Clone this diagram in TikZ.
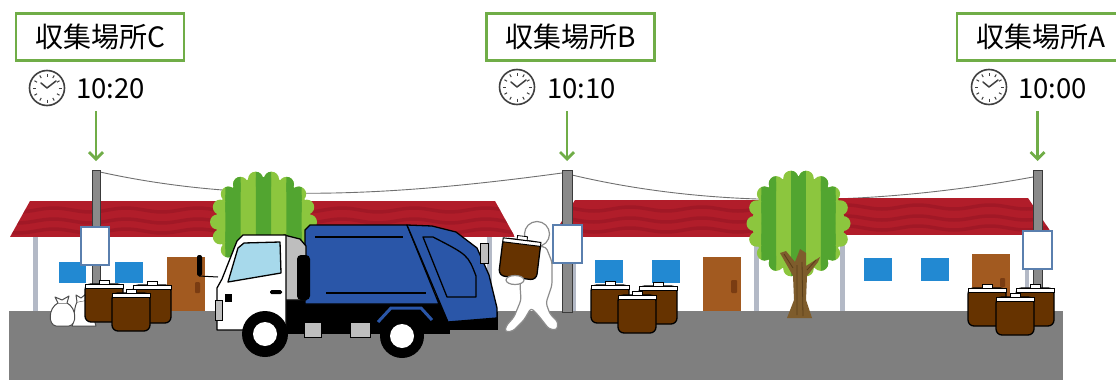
\documentclass[tikz,border=0pt]{standalone}
\usepackage{fontspec}
\newfontfamily\jpfont{Noto Sans CJK JP}
\usetikzlibrary{arrows.meta}

\definecolor{lgreen}{HTML}{70AD47}
\definecolor{roadgray}{HTML}{7F7F7F}
\definecolor{roofred}{HTML}{B11D2A}
\definecolor{roofdark}{HTML}{8A1220}
\definecolor{edgegray}{HTML}{B3B9C6}
\definecolor{winblue}{HTML}{2289D2}
\definecolor{doorbrown}{HTML}{A25A20}
\definecolor{doordark}{HTML}{7A3C12}
\definecolor{treelight}{HTML}{8CC63E}
\definecolor{treedark}{HTML}{52A530}
\definecolor{trunk}{HTML}{7E5C2C}
\definecolor{trunkline}{HTML}{5A3E1A}
\definecolor{binbrown}{HTML}{663300}
\definecolor{truckblue}{HTML}{2A56A8}
\definecolor{glass}{HTML}{A7D9EB}
\definecolor{panelgray}{HTML}{BEBEBE}
\definecolor{polegray}{HTML}{8A8A8A}
\definecolor{poleedge}{HTML}{3A3A3A}
\definecolor{signblue}{HTML}{5A7FAE}
\definecolor{wiregray}{HTML}{707070}
\definecolor{clockgray}{HTML}{404040}
\definecolor{persongray}{HTML}{8C8C8C}

% a garbage bin: #1 = left x, #2 = top y (lid)
\newcommand{\gbin}[2]{%
  \draw[fill=binbrown, line width=1.3pt, rounded corners=6pt] (#1,#2) rectangle ++(38,38);
  \draw[fill=white, line width=0.8pt] (#1+14,#2-4) rectangle ++(10,4);
  \draw[fill=white, line width=1pt] (#1,#2) rectangle ++(38,4);
}
% a wall clock: centre #1,#2
\newcommand{\gclock}[2]{%
  \draw[clockgray, line width=1.6pt, fill=white] (#1,#2) circle[radius=17.5pt];
  \foreach \a in {0,30,...,330}
    \draw[clockgray, line width=1pt] ({#1+11.5*cos(\a)},{#2+11.5*sin(\a)}) -- ({#1+14.5*cos(\a)},{#2+14.5*sin(\a)});
  \draw[clockgray, line width=1.5pt, line cap=round, line join=round] (#1-6,#2-5) -- (#1,#2) -- (#1+9,#2-7);
}
% the scalloped outline of a tree crown, painted piece by piece
\newcommand{\gcrownshape}[5]{%
  \fill[#5] (#1,#2) ellipse[x radius=#3-6, y radius=#4-6];
  \foreach \a in {0,20,...,340}
    \fill[#5] ({#1+(#3-7.5)*cos(\a)},{#2+(#4-7.5)*sin(\a)}) circle[radius=7.5];
}
% a striped tree crown: centre #1,#2, radii #3,#4
\newcommand{\gcrown}[4]{%
  \gcrownshape{#1}{#2}{#3}{#4}{treelight}
  \foreach \k in {1,3,5} {
    \begin{scope}
      \clip ({#1-#3+\k*2*#3/7},#2-#4) rectangle ++({2*#3/7},{2*#4});
      \gcrownshape{#1}{#2}{#3}{#4}{treedark}
    \end{scope}
  }
}
% a tiled roof: top-left x, top-right x, bottom-right x, bottom-left x, top y, bottom y
\newcommand{\groof}[6]{%
  \begin{scope}
    \clip (#1,#5) -- (#2,#5) -- (#3,#6) -- (#4,#6) -- cycle;
    \fill[roofred] (#4,#5) rectangle (#3,#6);
    \foreach \yy in {9,20,30}
      \draw[roofdark, line width=3.5pt, opacity=0.4] plot[domain=#4:#3, samples=90] (\x, {#5+\yy+2*sin(\x*5)});
  \end{scope}
}

\begin{document}
\begin{tikzpicture}[x=1pt, y=-1pt,
  labelbox/.style={draw=lgreen, line width=2.5pt, fill=white, minimum width=168pt,
    minimum height=47pt, inner sep=0pt, font=\jpfont\fontsize{28}{30}\selectfont},
  timetext/.style={anchor=west, inner sep=0pt, font=\jpfont\fontsize{27.5}{29}\selectfont},
  arr/.style={draw=lgreen, line width=2.8pt, -{Straight Barb[length=7pt,width=14pt]}},
  polebar/.style={fill=polegray, draw=poleedge, line width=1pt},
  signboard/.style={fill=white, draw=signblue, line width=1.2pt},
  wire/.style={draw=wiregray, line width=0.9pt},
  ink/.style={draw=black, line width=1.3pt, line join=round},
  personline/.style={fill=white, draw=persongray, line width=1.2pt, line join=round},
  bagline/.style={fill=white, draw=black!70, line width=1pt, line join=round}]

\useasboundingbox (0,0) rectangle (1116,380);

% road
\fill[roadgray] (9,311) rectangle (1063,380);

% overhead wires between the poles
\draw[wire] (100,172) .. controls (250,205) and (400,195) .. (562,173);
\draw[wire] (572,175) .. controls (720,210) and (880,205) .. (1033,177);

% house on the left
\groof{30}{495}{515}{10}{201}{237}
\fill[white] (35,237) rectangle (490,311);
\fill[edgegray] (33,237) rectangle (38,311);
\fill[edgegray] (487,237) rectangle (492,311);
\fill[winblue] (59,262) rectangle (86,283);
\fill[winblue] (115,262) rectangle (143,283);
\fill[doorbrown] (167,257) rectangle (205,311);
\fill[doordark, rounded corners=1pt] (195,282) rectangle (200,293);

% house in the middle
\groof{575}{770}{785}{552}{200}{237}
\fill[white] (572,237) rectangle (757,311);
\fill[edgegray] (572,237) rectangle (576,311);
\fill[edgegray] (754,237) rectangle (759,311);
\fill[winblue] (595,260) rectangle (623,283);
\fill[winblue] (652,260) rectangle (680,283);
\fill[doorbrown] (703,257) rectangle (741,311);
\fill[doordark, rounded corners=1pt] (731,280) rectangle (737,293);

% house on the right
\groof{830}{1028}{1053}{815}{198}{235}
\fill[white] (842,235) rectangle (1029,311);
\fill[edgegray] (840,235) rectangle (845,311);
\fill[edgegray] (1025,235) rectangle (1029,311);
\fill[winblue] (864,258) rectangle (892,281);
\fill[winblue] (921,258) rectangle (949,281);
\fill[doorbrown] (972,254) rectangle (1010,311);
\fill[doordark, rounded corners=1pt] (1000,278) rectangle (1005,287);

% trees
\gcrown{263.5}{222}{53.5}{51}
\gcrown{798.5}{223.5}{52}{53.5}
\fill[trunk] (780,253) -- (786,251) -- (795,262) -- (800,249) -- (806,253) -- (806,266)
  -- (820,257) -- (818,262) -- (807,276) -- (806,300) -- (812,318) -- (787,318)
  -- (794,300) -- (793,276) -- cycle;
\draw[trunkline, line width=0.8pt] (797,265) -- (797,315) (802,262) -- (803,316) (784,254) -- (793,268) (816,260) -- (807,270);

% poles and signs
\draw[polebar] (92,170) rectangle (100,290);
\draw[polebar] (562,170) rectangle (572,312);
\draw[polebar] (1033,170) rectangle (1042,300);
\draw[signboard] (81,227) rectangle (109,265);
\draw[signboard] (553,225) rectangle (582,263);
\draw[signboard] (1023,231) rectangle (1052,269);

% garbage bags at the left point
\draw[bagline] (77,302) .. controls (73,310) and (75,320) .. (72,326) -- (96,326)
  .. controls (96,320) and (89,318) .. (87,300) -- cycle;
\draw[bagline] (77,302) -- (76,295) -- (81,298) -- (86,294) -- (87,300);
\draw[bagline] (58,303) .. controls (48,308) and (48,325) .. (56,326) -- (69,326)
  .. controls (77,325) and (77,308) .. (67,303) -- cycle;
\draw[bagline] (58,303) -- (55,297) -- (62,300) -- (69,296) -- (67,303);

% bins at the three points
\gbin{85}{284}\gbin{133}{285}\gbin{112}{293}
\gbin{591}{285}\gbin{639}{286}\gbin{618}{295}
\gbin{968}{288}\gbin{1016}{288}\gbin{996}{297}

% ---- garbage truck ----
% chassis
\fill[black] (286,298) rectangle (450,334);
\fill[black] (440,312) rectangle (498,330);
% compactor body
\draw[ink, fill=truckblue] (305,304) -- (305,230) -- (310,225) -- (407,225) -- (439,304) -- cycle;
\draw[ink, fill=truckblue] (407,225) -- (432,226) -- (456,232) -- (477,248) -- (489,275)
  -- (497,308) -- (497,318) -- (448,322) -- cycle;
\draw[ink, fill=truckblue] (423,237) -- (447,297) -- (476,297) -- (476,276) .. controls (468,255) .. (433,237) -- cycle;
\draw[ink] (315,237) -- (403,237);
\draw[ink] (326,293) -- (426,293);
\draw[draw=black, line width=1pt, fill=panelgray] (480,243) rectangle (488,263);
\draw[truckblue, line width=3pt] (378,322) -- (391,308) -- (421,308) -- (432,320);
% cab
\draw[ink, fill=panelgray] (284,235) -- (300,239) -- (306,246) -- (306,300) -- (284,300) -- cycle;
\fill[black, rounded corners=4pt] (297,255) rectangle (310,300);
\draw[ink, fill=white] (217,330) -- (217,288) -- (222,279) -- (237,241) -- (243,235) -- (286,235)
  -- (286,330) -- cycle;
\draw[ink, fill=glass] (228,282) -- (238,248) -- (244,243) -- (280,242) -- (281,273) -- cycle;
\fill[black] (225,294) rectangle (232,302);
\fill[black, rounded corners=1.5pt] (270,290) rectangle (282,294);
\draw[draw=black, line width=1pt, fill=panelgray] (215,300) rectangle (222,320);
\fill[black, rounded corners=2pt] (197,255) rectangle (202,276);
\draw[black, line width=1pt] (199,276) -- (218,277);
% wheels and chassis panels
\fill[black] (265,334) circle[radius=23pt];
\fill[black] (402,336) circle[radius=22pt];
\fill[white] (265,334) circle[radius=12pt];
\fill[white] (402,336) circle[radius=12pt];
\draw[draw=black, line width=1pt, fill=panelgray] (304,322) rectangle (321,337);
\draw[draw=black, line width=1pt, fill=panelgray] (350,322) rectangle (370,337);

% ---- worker carrying a bin ----
\draw[personline, rounded corners=3pt] (528,246) -- (546,247) -- (552,262) -- (552,285) -- (546,303)
  -- (550,314) -- (558,322) -- (557,330) -- (549,329) -- (538,315) -- (531,308) -- (524,320)
  -- (513,331) -- (505,332) -- (506,326) -- (514,317) -- (521,300) -- (520,285) -- cycle;
\draw[personline] (537,234) circle[radius=12.5pt];
\begin{scope}[shift={(520,257)}, rotate=-7]
  \gbin{-19}{-17}
\end{scope}
\draw[personline] (515,280) ellipse[x radius=9, y radius=4.5];

% ---- labels, times and arrows ----
\node[labelbox] (labC) at (100,37) {収集場所C};
\node[labelbox] (labB) at (570.5,37) {収集場所B};
\node[labelbox] (labA) at (1041,37) {収集場所A};

\gclock{47}{88}
\gclock{517}{87}
\gclock{989}{87}
\node[timetext] (timeC) at (76,89) {10:20};
\node[timetext] (timeB) at (547,89) {10:10};
\node[timetext] (timeA) at (1018,89) {10:00};

\coordinate (arrCs) at (96,111);   \coordinate (arrCe) at (96,161);
\coordinate (arrBs) at (567,111);  \coordinate (arrBe) at (567,161);
\coordinate (arrAs) at (1037.5,111); \coordinate (arrAe) at (1037.5,161);
\draw[arr] (arrCs) -- (arrCe);
\draw[arr] (arrBs) -- (arrBe);
\draw[arr] (arrAs) -- (arrAe);

\end{tikzpicture}
\end{document}
